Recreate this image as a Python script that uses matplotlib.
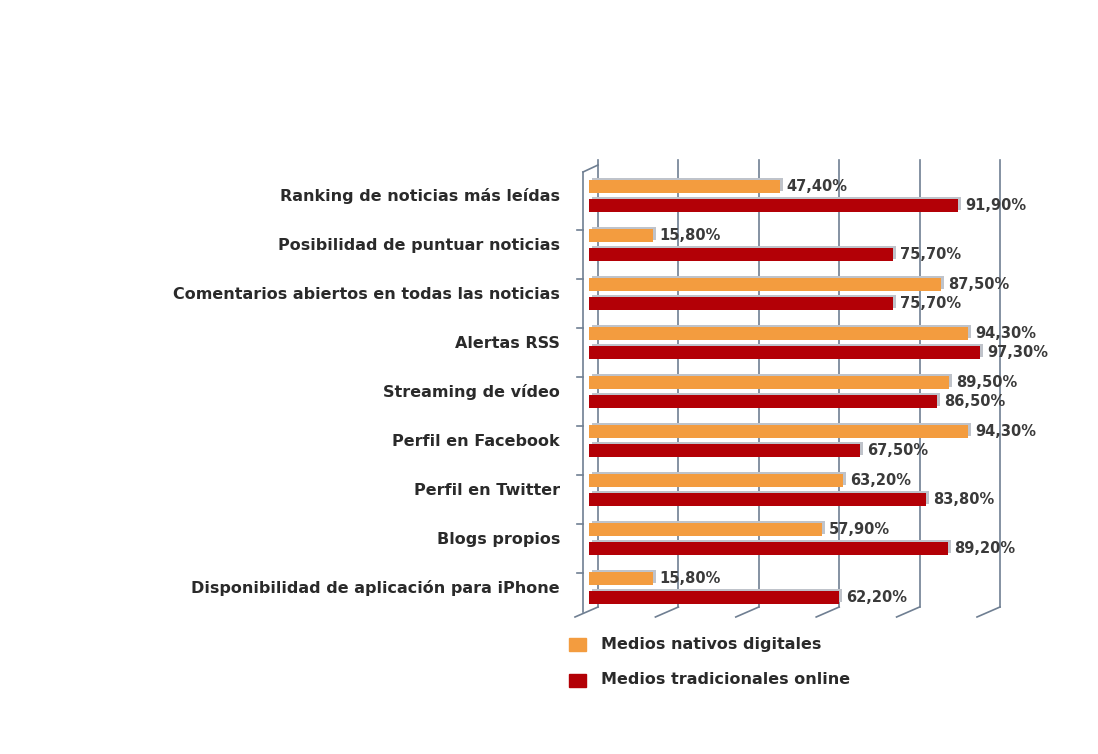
import numpy as np
import matplotlib
matplotlib.use("Agg")
import matplotlib.pyplot as plt
from matplotlib.patches import Rectangle
from matplotlib.transforms import ScaledTranslation

# datos
categorias = [
    "Ranking de noticias más leídas",
    "Posibilidad de puntuar noticias",
    "Comentarios abiertos en todas las noticias",
    "Alertas RSS",
    "Streaming de vídeo",
    "Perfil en Facebook",
    "Perfil en Twitter",
    "Blogs propios",
    "Disponibilidad de aplicación para iPhone",
]
nativos = [47.4, 15.8, 87.5, 94.3, 89.5, 94.3, 63.2, 57.9, 15.8]
tradicionales = [91.9, 75.7, 75.7, 97.3, 86.5, 67.5, 83.8, 89.2, 62.2]
series_nombres = ["Medios nativos digitales", "Medios tradicionales online"]
colores = ["#F39C3F", "#B30006"]
ticks_x = [0, 20, 40, 60, 80, 100]

W, H = 1098, 754
fig = plt.figure(figsize=(W / 100, H / 100), dpi=100)
fig.patch.set_facecolor("white")

# eje: 0% en x=589px, 100% en x=991px; filas cada 49px desde y=196
ax = fig.add_axes([589 / W, 1 - 620 / H, 402 / W, 460 / H])
ax.set_xlim(0, 100)
ax.set_ylim(8.653, -0.735)
ax.axis("off")


def px(dx, dy):
    # desplazamiento en pixeles (dy positivo = hacia arriba)
    return ScaledTranslation(dx / 100, dy / 100, fig.dpi_scale_trans)


def fila(py):
    return (py - 196) / 49.0


grid_col = "#6f7f92"
y_top, y_bot = fila(160), fila(607)
t_back = ax.transData + px(9, 0)
for v in ticks_x:
    ax.plot([v, v], [y_top, y_bot], color=grid_col, lw=1.2, transform=t_back,
            clip_on=False, zorder=1)
    # suelo en perspectiva
    ax.plot([v + 9 / 4.02, v - 14 / 4.02], [y_bot, fila(617)], color=grid_col,
            lw=1.2, clip_on=False, zorder=1)

# pared izquierda
ax.plot([-6 / 4.02, -6 / 4.02], [fila(172), fila(612)], color=grid_col, lw=1.2,
        clip_on=False, zorder=1)
ax.plot([-6 / 4.02, 9 / 4.02], [fila(172), fila(165)], color=grid_col, lw=1.2,
        clip_on=False, zorder=1)
for k in range(1, 9):
    yk = k - 0.5
    ax.plot([-12 / 4.02, -6 / 4.02], [yk + 0.2, yk + 0.2], color=grid_col, lw=1.2,
            clip_on=False, zorder=1)

y = np.arange(len(categorias))
alto = 0.27
for vals, off, col in [(nativos, -0.2, colores[0]), (tradicionales, 0.2, colores[1])]:
    ax.barh(y + off, vals, height=alto, color="#bfc3ca", transform=ax.transData + px(3, 2),
            zorder=2, clip_on=False)
    ax.barh(y + off, vals, height=alto, color=col, zorder=3, clip_on=False)
    for yi, v in zip(y + off, vals):
        etiqueta = f"{v:.2f}".replace(".", ",") + "%"
        ax.annotate(etiqueta, (v, yi), xytext=(5, 0), textcoords="offset points",
                    va="center", ha="left", fontsize=10.5, fontweight="bold",
                    color="#3a3a3a", zorder=4, annotation_clip=False)

for yi, cat in zip(y, categorias):
    ax.text(-29 / 4.02, yi, cat, ha="right", va="center", fontsize=11.5,
            fontweight="bold", color="#2a2a2a", clip_on=False)

# leyenda
for i, (nom, col) in enumerate(zip(series_nombres, colores)):
    yc = 644 + 36 * i
    fig.patches.append(Rectangle((569 / W, 1 - (yc + 7) / H), 17 / W, 13 / H,
                                 transform=fig.transFigure, color=col))
    fig.text(601 / W, 1 - yc / H, nom, ha="left", va="center", fontsize=11.5,
             fontweight="bold", color="#2a2a2a")

fig.savefig("out.png", dpi=100, facecolor="white")
